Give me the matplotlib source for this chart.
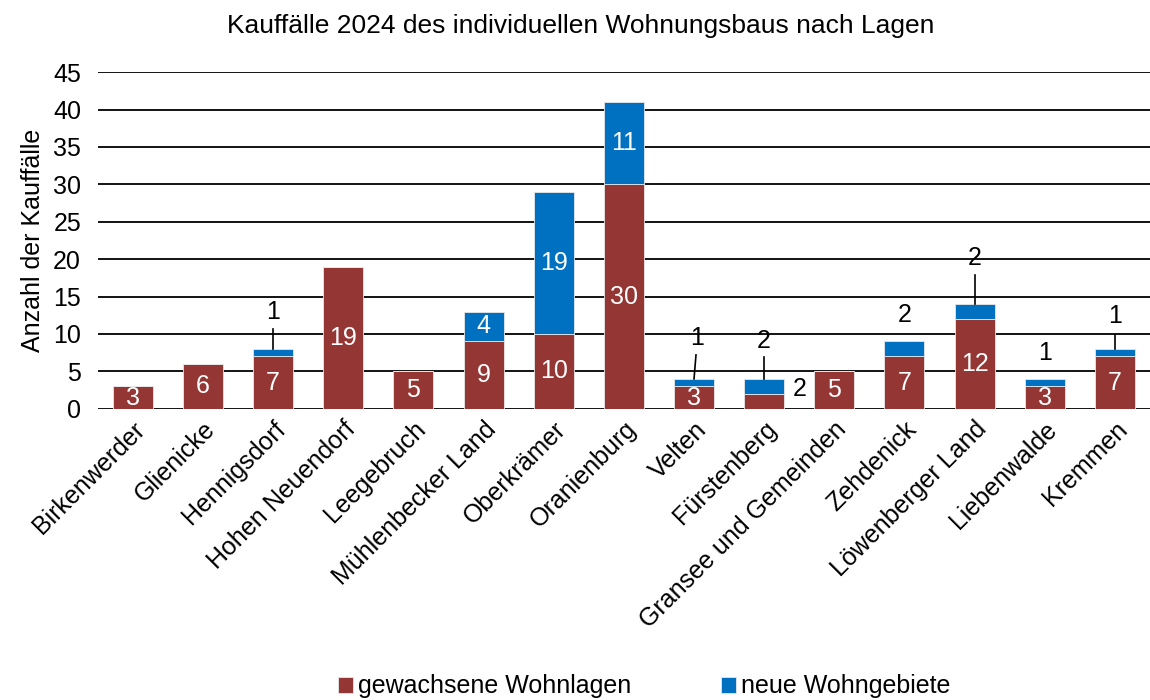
import matplotlib.pyplot as plt

plt.rcParams['font.family'] = ['Liberation Sans', 'DejaVu Sans']

# Data
orte = ['Birkenwerder', 'Glienicke', 'Hennigsdorf', 'Hohen Neuendorf', 'Leegebruch',
        'Mühlenbecker Land', 'Oberkrämer', 'Oranienburg', 'Velten', 'Fürstenberg',
        'Gransee und Gemeinden', 'Zehdenick', 'Löwenberger Land', 'Liebenwalde', 'Kremmen']
gewachsen = [3, 6, 7, 19, 5, 9, 10, 30, 3, 2, 5, 7, 12, 3, 7]
neu = [0, 0, 1, 0, 0, 4, 19, 11, 1, 2, 0, 2, 2, 1, 1]

# Outside label placement for small "neu" values:
# index -> (label x offset, label y, leader line end y or None)
aussen = {2: (0.0, 13.0, 10.6), 8: (0.04, 9.5, 7.2), 9: (0.0, 9.1, 6.9),
          11: (0.0, 12.5, None), 12: (0.0, 20.1, 17.9),
          13: (0.0, 7.5, None), 14: (0.0, 12.4, 9.9)}

rot = '#943634'
blau = '#0070C0'
fs = 18

fig = plt.figure(figsize=(11.5, 7), dpi=100)
ax = fig.add_axes([0.085, 0.416, 0.915, 0.481])

x = list(range(len(orte)))
w = 0.57
ax.bar(x, gewachsen, width=w, color=rot, edgecolor='#e8e8e8', linewidth=0.6,
       label='gewachsene Wohnlagen', zorder=3)
ax.bar(x, neu, width=w, bottom=gewachsen, color=blau, edgecolor='#e8e8e8', linewidth=0.6,
       label='neue Wohngebiete', zorder=3)

# Labels for gewachsene Wohnlagen
for i, v in enumerate(gewachsen):
    if v >= 3:
        ax.text(i, v / 2, str(v), ha='center', va='center', color='white', fontsize=fs, zorder=4)
    else:
        ax.text(i + 0.5, v + 0.6, str(v), ha='center', va='center', color='black', fontsize=fs, zorder=4)

# Labels for neue Wohngebiete
for i, v in enumerate(neu):
    if v == 0:
        continue
    top = gewachsen[i] + v
    if i in aussen:
        dx, ly, lend = aussen[i]
        ax.text(i + dx, ly, str(v), ha='center', va='center', color='black', fontsize=fs, zorder=4)
        if lend is not None:
            ax.plot([i, i + dx * 0.7], [top, lend], color='black', linewidth=1.2, zorder=4)
    else:
        ax.text(i, gewachsen[i] + v / 2, str(v), ha='center', va='center', color='white',
                fontsize=fs, zorder=4)

ax.set_xlim(-0.5, len(orte) - 0.5)
ax.set_ylim(0, 45)
ax.set_yticks(range(0, 46, 5))
ax.yaxis.grid(True, color='black', linewidth=1.3, zorder=0)
ax.set_axisbelow(True)
for s in ax.spines.values():
    s.set_visible(False)
ax.tick_params(axis='both', length=0, labelsize=fs, pad=12)
ax.tick_params(axis='x', pad=6)
ax.set_xticks(x)
ax.set_xticklabels(orte, rotation=45, ha='right', rotation_mode='anchor')
ax.set_ylabel('Anzahl der Kauffälle', fontsize=fs, labelpad=6)

fig.text(0.505, 0.963, 'Kauffälle 2024 des individuellen Wohnungsbaus nach Lagen',
         ha='center', va='center', fontsize=19)

fig.legend(loc='lower center', bbox_to_anchor=(0.56, -0.03), ncol=2, frameon=False,
           fontsize=fs, handlelength=0.6, handleheight=0.6, handletextpad=0.2,
           columnspacing=3.6)

fig.savefig('out.png', dpi=100)
